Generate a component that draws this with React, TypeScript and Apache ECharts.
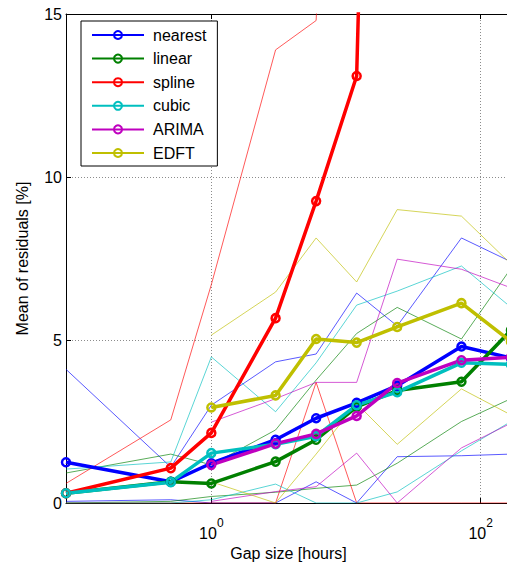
import React, { useEffect, useRef } from 'react';
import * as echarts from 'echarts';

// Gap sizes in hours (x positions of every curve)
const gapHours = [1 / 12, 0.5, 1, 3, 6, 12, 24, 72, 168];
const methods = ['nearest', 'linear', 'spline', 'cubic', 'ARIMA', 'EDFT'];
const methodColors = ['#0000FF', '#008000', '#FF0000', '#00BFBF', '#BF00BF', '#BFBF00'];
const xTickValues = [1, 100];
const yTickValues = [0, 5, 10, 15];

// Mean of residuals [%] (thick lines)
const meanNearest = [1.25, 0.65, 1.22, 1.94, 2.6, 3.07, 3.6, 4.8, 4.45];
const meanLinear = [0.3, 0.65, 0.6, 1.27, 1.94, 2.95, 3.45, 3.72, 5.3];
const meanSpline = [0.3, 1.07, 2.15, 5.67, 9.26, 13.1, 60, 150, 300];
const meanCubic = [0.3, 0.64, 1.53, 1.8, 2.05, 3.0, 3.4, 4.3, 4.25];
const meanArima = [null, null, 1.17, 1.82, 2.12, 2.67, 3.68, 4.38, 4.47];
const meanEdft = [null, null, 2.93, 3.3, 5.03, 4.92, 5.4, 6.13, 4.95];

// Individual results (thin lines), two per method
const nearestRunA = [4.1, 1.1, 3.0, 4.33, 4.57, 6.44, 5.43, 8.13, 7.4];
const nearestRunB = [0.05, 0.1, 0.0, 0.0, 0.65, 0.0, 1.42, 1.45, 1.5];
const linearRunA = [0.92, 1.5, 1.17, 2.24, 3.77, 5.2, 6.0, 5.03, 7.2];
const linearRunB = [0.0, 0.05, 0.2, 0.33, 0.45, 0.55, 1.22, 2.5, 3.2];
const splineRunA = [0.6, 2.55, 6.7, 13.9, 14.8, 40, 90, 200, 400];
const splineRunB = [0.0, 0.0, 0.0, 0.0, 3.7, 0.0, 0.0, 0.0, 0.0];
const cubicRunA = [1.04, 1.26, 4.48, 2.8, 4.3, 6.07, 6.5, 7.27, 6.0];
const cubicRunB = [0.0, 0.0, 0.1, 0.58, 0.0, 0.0, 0.34, 1.6, 2.5];
const arimaRunA = [null, null, 2.48, 3.2, 3.7, 3.7, 7.48, 7.17, 6.6];
const arimaRunB = [null, null, 0.05, 0.35, 0.5, 1.53, 0.0, 1.69, 2.45];
const edftRunA = [null, null, 5.15, 6.47, 8.13, 6.78, 9.0, 8.8, 7.33];
const edftRunB = [null, null, 0.65, 0.0, 1.5, 3.05, 1.8, 3.5, 2.7];

const meanSeries = [meanNearest, meanLinear, meanSpline, meanCubic, meanArima, meanEdft];
const runSeries = [
  [nearestRunA, nearestRunB],
  [linearRunA, linearRunB],
  [splineRunA, splineRunB],
  [cubicRunA, cubicRunB],
  [arimaRunA, arimaRunB],
  [edftRunA, edftRunB],
];

const FONT = '"Liberation Sans", Arial, Helvetica, sans-serif';

function toPairs(values: (number | null)[]) {
  const out: number[][] = [];
  values.forEach((v, i) => {
    if (v !== null && v !== undefined) out.push([gapHours[i], v]);
  });
  return out;
}

export default function App() {
  const ref = useRef<HTMLDivElement>(null);

  useEffect(() => {
    if (!ref.current) return;
    const chart = echarts.init(ref.current, undefined, { renderer: 'svg' });

    const series: any[] = [];
    runSeries.forEach((runs, m) => {
      runs.forEach((run, k) => {
        series.push({
          type: 'line',
          name: methods[m] + ' run ' + (k + 1),
          xAxisIndex: 0,
          data: toPairs(run),
          showSymbol: false,
          symbol: 'none',
          lineStyle: { color: methodColors[m], width: 1, opacity: 0.65 },
          itemStyle: { color: methodColors[m] },
          z: 2,
          silent: true,
        });
      });
    });
    meanSeries.forEach((vals, m) => {
      series.push({
        type: 'line',
        name: methods[m],
        xAxisIndex: 0,
        data: toPairs(vals),
        symbol: 'circle',
        symbolSize: 8,
        showSymbol: true,
        lineStyle: { color: methodColors[m], width: 3.5 },
        itemStyle: { color: 'rgba(255,255,255,0)', borderColor: methodColors[m], borderWidth: 2.5 },
        z: 3,
      });
    });

    const xLabelFormatter = (v: number) => `{b|10}{s|${Math.round(Math.log10(v))}}`;

    chart.setOption({
      animation: false,
      backgroundColor: '#ffffff',
      grid: { left: 66, top: 14, width: 445, height: 489, containLabel: false, outerBoundsMode: 'none' },
      legend: {
        orient: 'vertical',
        left: 81,
        top: 21,
        padding: [6, 11, 5, 10],
        itemWidth: 52,
        itemHeight: 10,
        itemGap: 7.6,
        borderColor: '#000',
        borderWidth: 1,
        backgroundColor: '#fff',
        data: methods,
        textStyle: { fontSize: 16, fontFamily: FONT, color: '#000', padding: [0, 0, 0, 4] },
      },
      xAxis: [
        {
          type: 'log',
          logBase: 10,
          min: gapHours[0],
          max: gapHours[gapHours.length - 1],
          position: 'bottom',
          name: 'Gap size [hours]',
          nameLocation: 'middle',
          nameGap: 41,
          nameTextStyle: { fontSize: 16, fontFamily: FONT, color: '#000' },
          axisLine: { show: true, lineStyle: { color: '#000', width: 1 } },
          axisTick: { show: true, inside: true, length: 5, customValues: xTickValues, lineStyle: { color: '#000' } },
          minorTick: { show: false },
          axisLabel: {
            show: true,
            customValues: xTickValues,
            margin: 14,
            formatter: xLabelFormatter,
            rich: {
              b: { fontSize: 16, fontFamily: FONT, color: '#000', lineHeight: 24, verticalAlign: 'bottom' },
              s: { fontSize: 12, fontFamily: FONT, color: '#000', lineHeight: 24, verticalAlign: 'top', padding: [0, 0, 0, 0] },
            },
          },
          splitLine: { show: true, lineStyle: { color: '#8c8c8c', type: [1, 2], width: 1 } },
        },
        {
          type: 'log',
          logBase: 10,
          min: gapHours[0],
          max: gapHours[gapHours.length - 1],
          position: 'top',
          axisLine: { show: true, lineStyle: { color: '#000', width: 1 } },
          axisTick: { show: true, inside: true, length: 5, customValues: xTickValues, lineStyle: { color: '#000' } },
          axisLabel: { show: false, customValues: xTickValues },
          splitLine: { show: false },
        },
      ],
      yAxis: {
        type: 'value',
        min: 0,
        max: 15,
        interval: 5,
        name: 'Mean of residuals [%]',
        nameLocation: 'middle',
        nameGap: 36,
        nameTextStyle: { fontSize: 16, fontFamily: FONT, color: '#000' },
        axisLine: { show: true, lineStyle: { color: '#000', width: 1 } },
        axisTick: { show: true, inside: true, length: 5, lineStyle: { color: '#000' } },
        axisLabel: {
          margin: 4,
          fontSize: 16,
          fontFamily: FONT,
          color: '#000',
          customValues: yTickValues,
        },
        splitLine: { show: true, lineStyle: { color: '#8c8c8c', type: [1, 2], width: 1 } },
      },
      series,
    });

    return () => {
      chart.dispose();
    };
  }, []);

  return (
    <div
      ref={ref}
      style={{ position: 'absolute', left: 0, top: 0, width: 507, height: 562, background: '#fff' }}
    />
  );
}
